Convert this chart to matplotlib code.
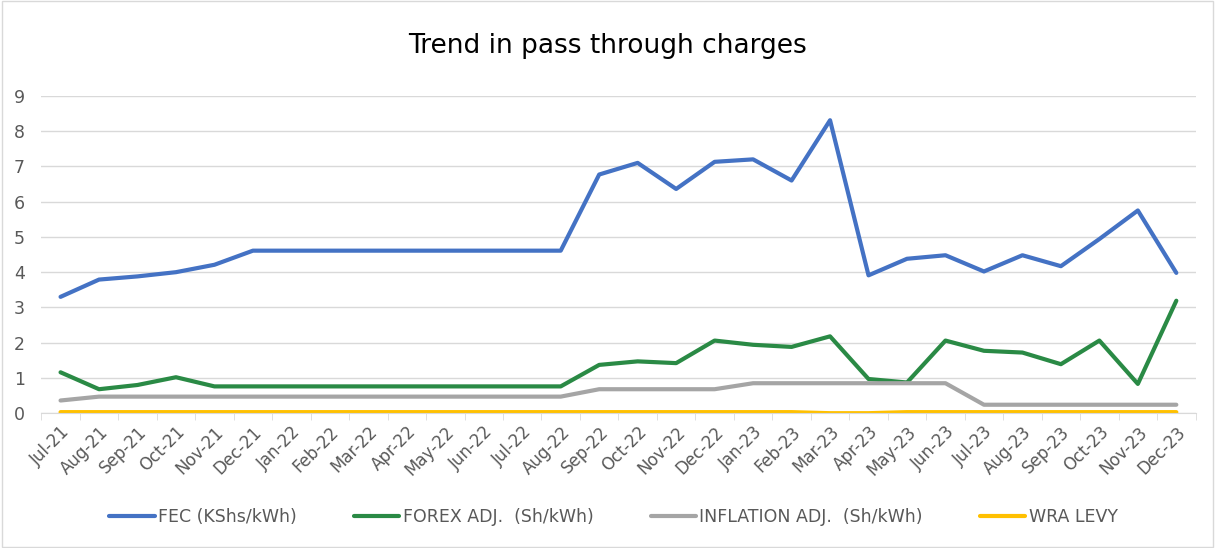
import matplotlib.pyplot as plt
from matplotlib.patches import Rectangle

months = ["Jul-21", "Aug-21", "Sep-21", "Oct-21", "Nov-21", "Dec-21",
          "Jan-22", "Feb-22", "Mar-22", "Apr-22", "May-22", "Jun-22",
          "Jul-22", "Aug-22", "Sep-22", "Oct-22", "Nov-22", "Dec-22",
          "Jan-23", "Feb-23", "Mar-23", "Apr-23", "May-23", "Jun-23",
          "Jul-23", "Aug-23", "Sep-23", "Oct-23", "Nov-23", "Dec-23"]

fec = [3.30, 3.79, 3.88, 4.00, 4.21, 4.61,
       4.61, 4.61, 4.61, 4.61, 4.61, 4.61,
       4.61, 4.61, 6.77, 7.10, 6.36, 7.13,
       7.20, 6.60, 8.31, 3.91, 4.38, 4.48,
       4.02, 4.48, 4.17, 4.94, 5.75, 3.98]

forex = [1.16, 0.68, 0.80, 1.02, 0.76, 0.76,
         0.76, 0.76, 0.76, 0.76, 0.76, 0.76,
         0.76, 0.76, 1.37, 1.47, 1.42, 2.06,
         1.94, 1.88, 2.18, 0.97, 0.87, 2.06,
         1.77, 1.72, 1.39, 2.06, 0.83, 3.19]

inflation = [0.36, 0.47, 0.47, 0.47, 0.47, 0.47,
             0.47, 0.47, 0.47, 0.47, 0.47, 0.47,
             0.47, 0.47, 0.68, 0.68, 0.68, 0.68,
             0.85, 0.85, 0.85, 0.85, 0.85, 0.85,
             0.24, 0.24, 0.24, 0.24, 0.24, 0.24]

wra = [0.03] * 19 + [0.03, 0.0, 0.0, 0.03, 0.03,
                     0.03, 0.03, 0.03, 0.03, 0.03, 0.03]

series = [
    ("FEC (KShs/kWh)", fec, "#4472C4"),
    ("FOREX ADJ.  (Sh/kWh)", forex, "#2A8A45"),
    ("INFLATION ADJ.  (Sh/kWh)", inflation, "#A5A5A5"),
    ("WRA LEVY", wra, "#FFC000"),
]

plt.rcParams['font.family'] = ['DejaVu Sans']

fig = plt.figure(figsize=(12.15, 5.48), dpi=100)
ax = fig.add_axes([0.034, 0.246, 0.950, 0.579])

x = list(range(len(months)))
for label, vals, col in series:
    ax.plot(x, vals, color=col, lw=3, label=label, solid_capstyle='round')

ax.set_xlim(-0.5, len(months) - 0.5)
ax.set_ylim(0, 9)
ax.set_yticks(range(10))
ax.yaxis.grid(True, color="#D9D9D9", lw=1)
ax.set_axisbelow(True)
for s in ["top", "right", "left"]:
    ax.spines[s].set_visible(False)
ax.spines["bottom"].set_color("#D9D9D9")

ax.set_xticks(x)
ax.set_xticklabels(months, rotation=45, ha="right", rotation_mode="anchor")
ax.set_xticks([i - 0.5 for i in range(len(months) + 1)], minor=True)
ax.tick_params(axis="x", which="major", length=0, pad=7, labelsize=12, labelcolor="#595959")
ax.tick_params(axis="x", which="minor", length=5, color="#D9D9D9")
ax.tick_params(axis="y", length=0, labelsize=12.5, labelcolor="#595959", pad=12)

fig.suptitle("Trend in pass through charges", y=0.94, fontsize=19, color="#000000")

ax.legend(loc="center", bbox_to_anchor=(0.505, 0.057), bbox_transform=fig.transFigure,
          ncol=4, frameon=False, fontsize=12.5, columnspacing=3.3, handlelength=2.6,
          handletextpad=0.2, labelcolor="#595959")

fig.patches.append(Rectangle((0.002, 0.002), 0.996, 0.996, transform=fig.transFigure,
                             fill=False, edgecolor="#D9D9D9", lw=1))

fig.savefig("out.png", dpi=100)
